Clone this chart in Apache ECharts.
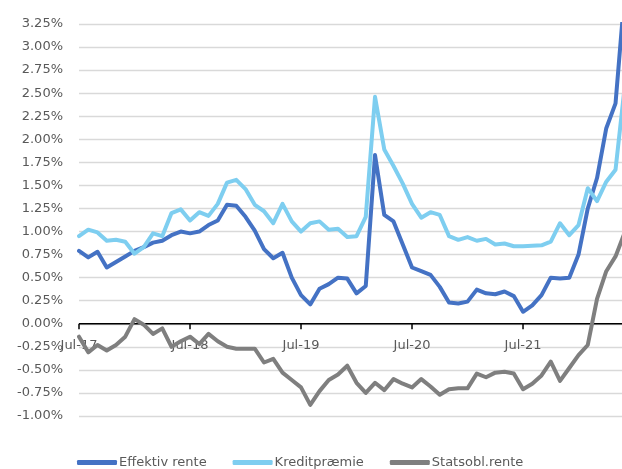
<!DOCTYPE html>
<html>
<head>
<meta charset="utf-8">
<script src="https://cdn.jsdelivr.net/npm/echarts@6/dist/echarts.min.js"></script>
<style>
html,body{margin:0;padding:0;background:#fff;}
#chart{width:622px;height:469px;}
</style>
</head>
<body>
<div id="chart"></div>
<script>
// Monthly observations, Jul-17 .. Jun-22 (index 0 = Jul-17)
const months = ['Jan','Feb','Mar','Apr','May','Jun','Jul','Aug','Sep','Oct','Nov','Dec'];
const categories = [];
for (let k = 0; k < 60; k++) {
  const m = (6 + k) % 12;
  const y = 17 + Math.floor((6 + k) / 12);
  categories.push(months[m] + '-' + y);
}
const tickMonths = [0, 12, 24, 36, 48];

const effektivRente = [
  0.79, 0.72, 0.78, 0.61, 0.67, 0.73, 0.79, 0.83, 0.88, 0.90, 0.96, 1.00,
  0.98, 1.00, 1.07, 1.12, 1.29, 1.28, 1.16, 1.01, 0.81, 0.71, 0.77, 0.50,
  0.31, 0.21, 0.38, 0.43, 0.50, 0.49, 0.33, 0.41, 1.83, 1.18, 1.11, 0.86,
  0.61, 0.57, 0.53, 0.40, 0.23, 0.22, 0.24, 0.37, 0.33, 0.32, 0.35, 0.30,
  0.13, 0.20, 0.31, 0.50, 0.49, 0.50, 0.75, 1.25, 1.58, 2.12, 2.39, 3.60
];
const kreditpraemie = [
  0.95, 1.02, 0.99, 0.90, 0.91, 0.89, 0.76, 0.83, 0.98, 0.95, 1.20, 1.24,
  1.12, 1.21, 1.17, 1.30, 1.53, 1.56, 1.46, 1.29, 1.22, 1.09, 1.30, 1.11,
  1.00, 1.09, 1.11, 1.02, 1.03, 0.94, 0.95, 1.16, 2.46, 1.89, 1.71, 1.52,
  1.30, 1.15, 1.21, 1.18, 0.95, 0.91, 0.94, 0.90, 0.92, 0.86, 0.87, 0.84,
  0.84, 0.845, 0.85, 0.89, 1.09, 0.96, 1.07, 1.47, 1.33, 1.54, 1.67, 2.58
];
const statsoblRente = [
  -0.14, -0.31, -0.23, -0.29, -0.23, -0.14, 0.05, -0.01, -0.11, -0.05, -0.25, -0.19,
  -0.14, -0.22, -0.11, -0.19, -0.25, -0.27, -0.27, -0.27, -0.42, -0.38, -0.53, -0.61,
  -0.69, -0.88, -0.73, -0.61, -0.55, -0.455, -0.64, -0.75, -0.64, -0.72, -0.60, -0.65,
  -0.69, -0.60, -0.68, -0.77, -0.71, -0.70, -0.70, -0.54, -0.58, -0.53, -0.52, -0.54,
  -0.71, -0.65, -0.56, -0.41, -0.62, -0.48, -0.34, -0.23, 0.27, 0.57, 0.73, 0.99
];
const seriesNames = ['Effektiv rente', 'Kreditpræmie', 'Statsobl.rente'];
const colors = ['#4472C4', '#7ECEF0', '#7F7F7F'];

const chart = echarts.init(document.getElementById('chart'), null, {renderer: 'canvas'});
const font = 'DejaVu Sans';
const toPairs = arr => arr.map((v, i) => [i, v]);
const mk = (name, data, color) => ({
  name: name, type: 'line', data: toPairs(data), symbol: 'none', smooth: false, clip: true,
  z: 10,
  lineStyle: {width: 4, color: color, cap: 'round', join: 'round'},
  itemStyle: {color: color}
});
chart.setOption({
  animation: false,
  backgroundColor: '#fff',
  color: colors,
  grid: {left: 79, top: 24, bottom: 53, right: 0},
  legend: {
    top: 456, left: 77, padding: 0,
    icon: 'roundRect', itemWidth: 40, itemHeight: 5, itemGap: 26,
    textStyle: {fontFamily: font, fontSize: 13, color: '#595959', padding: [0, 0, 0, -3]},
    data: seriesNames
  },
  xAxis: {
    type: 'value', min: 0, max: 58.7, interval: 12,
    axisLine: {show: false},
    axisTick: {show: false},
    axisLabel: {customValues: tickMonths, margin: -77, fontFamily: font, fontSize: 13, color: '#595959',
      formatter: v => categories[Math.round(v)]},
    splitLine: {show: false}
  },
  yAxis: {
    type: 'value', min: -1, max: 3.25, interval: 0.25,
    axisLine: {show: false}, axisTick: {show: false},
    axisLabel: {margin: 16, fontFamily: font, fontSize: 13, color: '#595959',
      formatter: v => v.toFixed(2) + '%'},
    splitLine: {lineStyle: {color: '#D9D9D9', width: 1.3}}
  },
  series: [
    mk(seriesNames[0], effektivRente, colors[0]),
    mk(seriesNames[1], kreditpraemie, colors[1]),
    mk(seriesNames[2], statsoblRente, colors[2])
  ]
});

// Zero axis line and tick marks, positioned through the chart's own scales
const y0 = chart.convertToPixel({yAxisIndex: 0}, 0);
const xStart = chart.convertToPixel({xAxisIndex: 0}, 0);
const xEnd = chart.convertToPixel({xAxisIndex: 0}, 58.7);
const axisGraphics = [{
  type: 'line', z: 5, silent: true,
  shape: {x1: xStart, y1: y0, x2: xEnd, y2: y0},
  style: {stroke: '#000', lineWidth: 1.6}
}].concat(tickMonths.map(m => {
  const x = chart.convertToPixel({xAxisIndex: 0}, m);
  return {
    type: 'line', z: 5, silent: true,
    shape: {x1: x, y1: y0, x2: x, y2: y0 + 5.5},
    style: {stroke: '#000', lineWidth: 1.5}
  };
}));
chart.setOption({graphic: {elements: axisGraphics}});
</script>
</body>
</html>
